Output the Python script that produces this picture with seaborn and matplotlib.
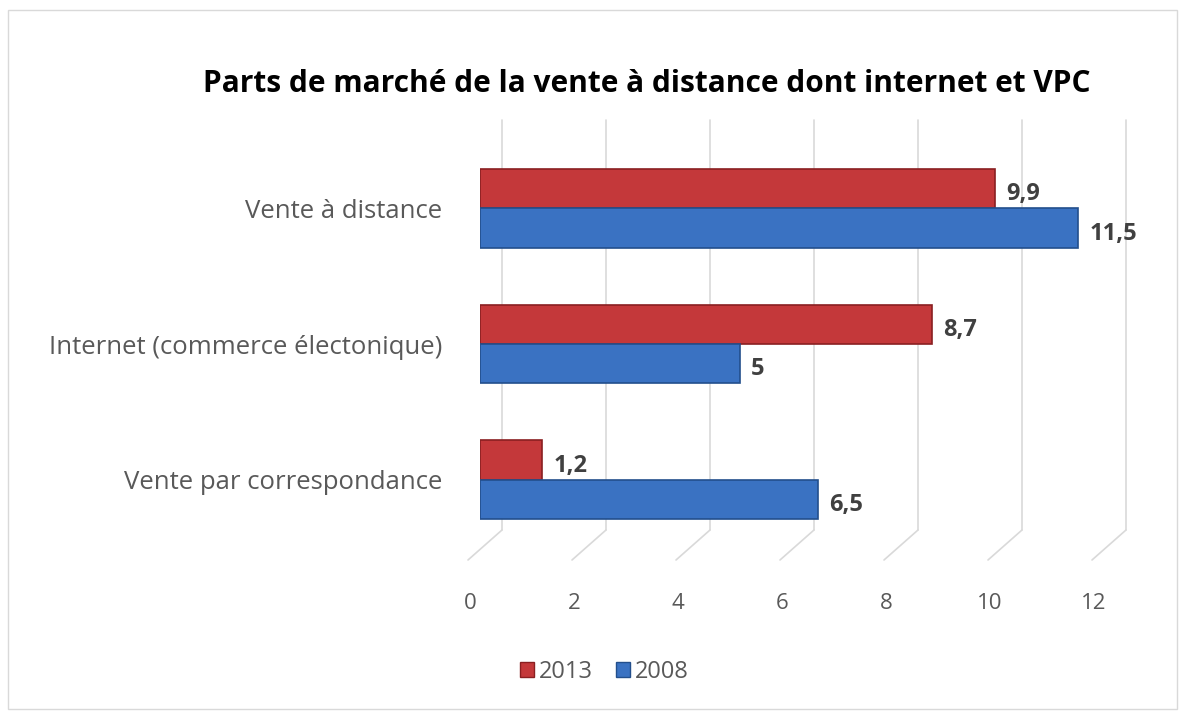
import matplotlib
matplotlib.use("Agg")
import matplotlib.pyplot as plt
import matplotlib.transforms as mtransforms
from matplotlib.patches import Rectangle
import pandas as pd
import seaborn as sns

# Data
categories = ['Vente à distance', 'Internet (commerce électonique)', 'Vente par correspondance']
years = ['2013', '2008']
values_2013 = [9.9, 8.7, 1.2]
values_2008 = [11.5, 5.0, 6.5]
x_ticks = [0, 2, 4, 6, 8, 10, 12]

colors = {'2013': '#C4383A', '2008': '#3A72C2'}
edge_colors = {'2013': '#8A1F21', '2008': '#234F8C'}

df = pd.DataFrame({
    'Catégorie': categories * 2,
    'Année': ['2013'] * 3 + ['2008'] * 3,
    'Part': values_2013 + values_2008,
})

sns.set_theme(style='white')
plt.rcParams['font.family'] = ['Open Sans', 'DejaVu Sans']

fig = plt.figure(figsize=(11.85, 7.17), dpi=100)
ax = fig.add_axes([480 / 1185, 1 - 560 / 717, 624 / 1185, 440 / 717])

sns.barplot(data=df, x='Part', y='Catégorie', hue='Année', hue_order=years,
            order=categories, palette=colors, orient='h', width=0.58,
            saturation=1, ax=ax, legend=False, zorder=3)

for cont, year in zip(ax.containers, years):
    for bar in cont:
        bar.set_edgecolor(edge_colors[year])
        bar.set_linewidth(1.2)
        w = bar.get_width()
        txt = f'{w:g}'.replace('.', ',')
        ax.annotate(txt, (w, bar.get_y() + bar.get_height() / 2),
                    xytext=(8, -4), textcoords='offset points',
                    va='center', ha='left', fontsize=17, fontweight='bold',
                    color='#404040', zorder=4)

ax.set_xlim(0, 12)
ax.set_ylim(2.59, -0.65)
ax.set_xticks(x_ticks)
ax.set_xticklabels([str(t) for t in x_ticks])
ax.set_xlabel('')
ax.set_ylabel('')
for s in ax.spines.values():
    s.set_visible(False)
ax.tick_params(axis='x', length=0, pad=24, labelsize=16, labelcolor='#595959')
ax.tick_params(axis='y', length=0, pad=27, labelsize=18.5, labelcolor='#595959')
shift = mtransforms.ScaledTranslation(-10 / 100, 0, fig.dpi_scale_trans)
for lab in ax.get_xticklabels():
    lab.set_transform(lab.get_transform() + shift)

# pseudo-3D gridlines: back wall lines + diagonal floor strokes
back = mtransforms.offset_copy(ax.get_xaxis_transform(), fig=fig, x=22, y=0, units='dots')
fig.canvas.draw()
for t in x_ticks:
    ax.plot([t, t], [30 / 440, 1], transform=back, color='#d9d9d9', lw=1.2,
            zorder=1, clip_on=False)
    p = ax.get_xaxis_transform().transform([(t, 30 / 440), (t, 0)])
    ax.plot([p[0][0] + 22, p[1][0] - 12], [p[0][1], p[1][1]],
            transform=None, color='#d9d9d9', lw=1.2, zorder=1, clip_on=False)

fig.text(0.546, 1 - 84 / 717, 'Parts de marché de la vente à distance dont internet et VPC',
         ha='center', va='center', fontsize=21.5, fontweight='bold', color='#000000')

handles = [Rectangle((0, 0), 1, 1, facecolor=colors[y], edgecolor=edge_colors[y]) for y in years]
fig.legend(handles, years, loc='center', bbox_to_anchor=(0.51, 1 - 672 / 717), ncol=2,
           frameon=False, fontsize=17, labelcolor='#595959', handlelength=0.6,
           handleheight=0.6, handletextpad=0.2, columnspacing=1.0)

fig.patches.append(Rectangle((8 / 1185, 8 / 717), 1 - 16 / 1185, 1 - 18 / 717,
                             transform=fig.transFigure, fill=False,
                             edgecolor='#d9d9d9', lw=1))

fig.savefig('out.png', dpi=100)
